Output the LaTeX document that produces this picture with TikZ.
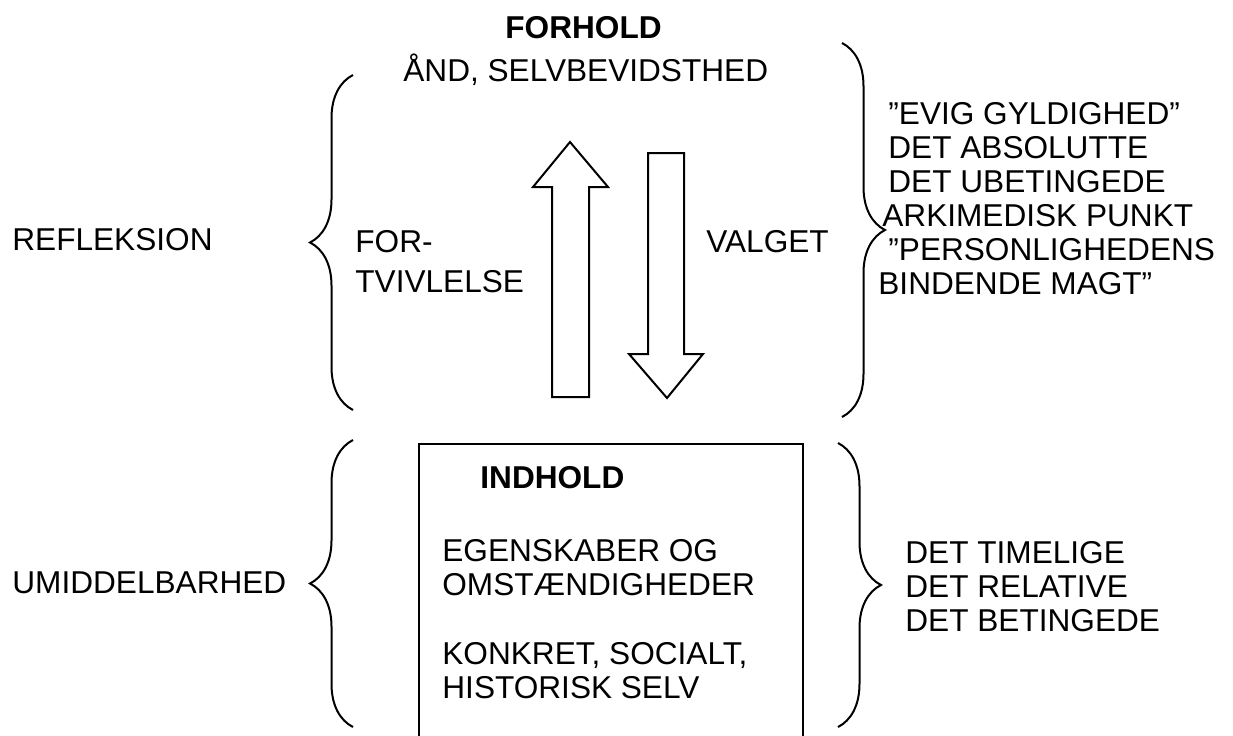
\documentclass[tikz,border=0pt]{standalone}
\usepackage{fontspec}
\setmainfont{Liberation Sans}
\usetikzlibrary{decorations.pathreplacing}
\tikzset{
  txt/.style={inner sep=0pt, font=\fontsize{15.8}{17}\selectfont},
  hd/.style={txt, font=\fontsize{15.8}{17}\selectfont\bfseries},
  krolle/.style={decorate, decoration={brace, amplitude=21.5pt}, line width=1pt},
  blokpil/.style={draw, line width=1pt, line join=miter},
}
\begin{document}
\begin{tikzpicture}[x=0.5pt, y=-0.5pt]
  \useasboundingbox (0,0) rectangle (1233,735);
  % forhold
  \node[hd, anchor=base west] (forhold) at (505,38) {FORHOLD};
  \node[txt, anchor=base west] (aand) at (403,81) {ÅND, SELVBEVIDSTHED};
  \node[txt, anchor=base west] (refl) at (12,250) {REFLEKSION};
  \node[txt, anchor=north west, align=left, font=\fontsize{15.8}{20}\selectfont] (fortv) at (355,230) {FOR-\\TVIVLELSE};
  \node[txt, anchor=base west] (valget) at (706,252) {VALGET};
  \node[txt, anchor=north west, align=left] (evig) at (888,102)
    {”EVIG GYLDIGHED”\\DET ABSOLUTTE\\DET UBETINGEDE\\\hspace*{-3pt}ARKIMEDISK PUNKT\\”PERSONLIGHEDENS\\\hspace*{-5pt}BINDENDE MAGT”};
  \draw[krolle] (353,410) -- (353,75);
  \draw[krolle] (842,43) -- (842,417);
  % pile
  \draw[blokpil] (552,397) -- (552,187) -- (533,187) -- (570,142) -- (608,187) -- (589,187) -- (589,397) -- cycle;
  \draw[blokpil] (648,153) -- (648,354) -- (629,354) -- (667,398) -- (703,354) -- (684,354) -- (684,153) -- cycle;
  % indhold
  \draw[line width=1pt] (419,736) -- (419,444) -- (803,444) -- (803,736);
  \node[hd, anchor=base west] (indhold) at (480,488) {INDHOLD};
  \node[txt, anchor=north west, align=left] (egensk) at (442,539) {EGENSKABER OG\\OMSTÆNDIGHEDER};
  \node[txt, anchor=north west, align=left] (konkret) at (442,642) {KONKRET, SOCIALT,\\HISTORISK SELV};
  \node[txt, anchor=base west] (umid) at (12,593) {UMIDDELBARHED};
  \node[txt, anchor=north west, align=left] (timelig) at (905,541) {DET TIMELIGE\\DET RELATIVE\\DET BETINGEDE};
  \draw[krolle] (353,727) -- (353,440);
  \draw[krolle] (838,443) -- (838,727);
\end{tikzpicture}
\end{document}
